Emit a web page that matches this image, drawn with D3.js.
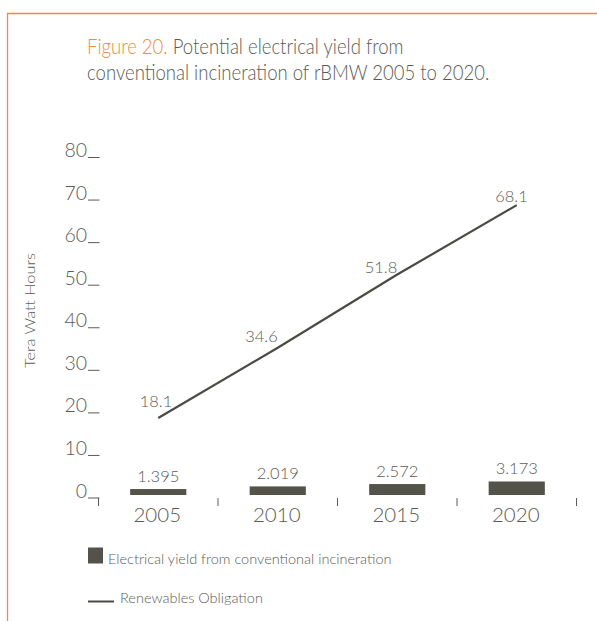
<!DOCTYPE html>
<html>
<head>
<meta charset="utf-8">
<script src="https://cdn.jsdelivr.net/npm/d3@7"></script>
<style>
  html, body { margin: 0; padding: 0; background: #fff; }
  svg { display: block; }
  text { font-family: Lato, "Open Sans", sans-serif; font-weight: 300; }
</style>
</head>
<body>
<svg id="chart" width="597" height="621"></svg>
<script>
// Years on the category axis
const years = ["2005", "2010", "2015", "2020"];
// Electrical yield from conventional incineration (TWh)
const incinerationYield = [1.395, 2.019, 2.572, 3.173];
// Renewables Obligation (TWh)
const renewablesObligation = [18.1, 34.6, 51.8, 68.1];
// Value-axis ticks
const yTicks = [0, 10, 20, 30, 40, 50, 60, 70, 80];

// Label nudges for the line values (dx, dy from each point)
const lineLabelNudge = [[14, -11], [0, -6], [0, -2], [11, -3]];

const textColor = "#5b5b56";
const barColor = "#53534a";
const lineColor = "#4b4b45";
const orange = "#f3893d";

const svg = d3.select("#chart");

// Frame
svg.append("path")
  .attr("d", "M7.5,621 V13.5 H597")
  .attr("fill", "none")
  .attr("stroke", orange)
  .attr("stroke-width", 1.3);

// Title (slightly condensed)
const titleG = svg.append("g").attr("transform", "translate(87,0) scale(0.862,1)");
const title = titleG.append("text")
  .attr("x", 0).attr("y", 54)
  .attr("font-size", 21.5)
  .attr("fill", textColor);
title.append("tspan").attr("fill", orange).text("Figure 20.");
title.append("tspan").text(" Potential electrical yield from");
titleG.append("text")
  .attr("x", 0).attr("y", 80)
  .attr("font-size", 21.5)
  .attr("fill", textColor)
  .text("conventional incineration of rBMW 2005 to 2020.");

// Scales
const x = d3.scaleBand().domain(years).range([98.5, 576.5]).paddingInner(0.53).paddingOuter(0.265);
const y = d3.scaleLinear().domain([0, 80]).range([495, 154.5]);

// Value axis: numbers with underscore-style ticks
const yAxis = svg.append("g");
yAxis.selectAll("text").data(yTicks).join("text")
  .attr("x", 87).attr("y", d => y(d) + 2.5)
  .attr("text-anchor", "end")
  .attr("font-size", 19.5)
  .attr("fill", textColor)
  .text(d => d);
yAxis.selectAll("line").data(yTicks).join("line")
  .attr("x1", 88).attr("x2", 99.5)
  .attr("y1", d => y(d) + 3).attr("y2", d => y(d) + 3)
  .attr("stroke", textColor).attr("stroke-width", 1);

// Category boundaries as short vertical ticks
const step = x.step();
const bounds = d3.range(years.length + 1).map(i => x.range()[0] + i * step);
svg.append("g").selectAll("line").data(bounds).join("line")
  .attr("x1", d => d).attr("x2", d => d)
  .attr("y1", y(0) + 3).attr("y2", y(0) + 11)
  .attr("stroke", textColor).attr("stroke-width", 1);

// Category labels
svg.append("g").selectAll("text").data(years).join("text")
  .attr("x", d => x(d) + x.bandwidth() / 2 - 1)
  .attr("y", 521.5)
  .attr("text-anchor", "middle")
  .attr("font-size", 20.5)
  .attr("fill", textColor)
  .text(d => d);

// Axis title
svg.append("text")
  .attr("transform", "translate(35,310.5) rotate(-90)")
  .attr("text-anchor", "middle")
  .attr("font-size", 14.5)
  .attr("textLength", 115)
  .attr("lengthAdjust", "spacingAndGlyphs")
  .attr("fill", textColor)
  .text("Tera Watt Hours");

// Bars
svg.append("g").selectAll("rect").data(incinerationYield).join("rect")
  .attr("x", (d, i) => x(years[i]))
  .attr("y", d => y(d))
  .attr("width", x.bandwidth())
  .attr("height", d => y(0) - y(d))
  .attr("fill", barColor);

svg.append("g").selectAll("text").data(incinerationYield).join("text")
  .attr("x", (d, i) => x(years[i]) + x.bandwidth() / 2)
  .attr("y", d => y(d) - 7.5)
  .attr("text-anchor", "middle")
  .attr("font-size", 16.5)
  .attr("fill", textColor)
  .text(d => d3.format(".3f")(d));

// Line
const cx = i => x(years[i]) + x.bandwidth() / 2;
const line = d3.line().x((d, i) => cx(i)).y(d => y(d));
svg.append("path")
  .datum(renewablesObligation)
  .attr("d", line)
  .attr("fill", "none")
  .attr("stroke", lineColor)
  .attr("stroke-width", 2.2);

svg.append("g").selectAll("text").data(renewablesObligation).join("text")
  .attr("x", (d, i) => cx(i) + lineLabelNudge[i][0])
  .attr("y", (d, i) => y(d) + lineLabelNudge[i][1])
  .attr("text-anchor", "end")
  .attr("font-size", 16.5)
  .attr("fill", textColor)
  .text(d => d);

// Legend
const legend = svg.append("g");
legend.append("rect")
  .attr("x", 88).attr("y", 547.5).attr("width", 15).attr("height", 16)
  .attr("fill", barColor);
legend.append("text")
  .attr("x", 108).attr("y", 564)
  .attr("font-size", 14.5)
  .attr("fill", textColor)
  .text("Electrical yield from conventional incineration");
legend.append("line")
  .attr("x1", 88).attr("x2", 114).attr("y1", 601.5).attr("y2", 601.5)
  .attr("stroke", lineColor).attr("stroke-width", 2);
legend.append("text")
  .attr("x", 120).attr("y", 603)
  .attr("font-size", 14.5)
  .attr("fill", textColor)
  .text("Renewables Obligation");
</script>
</body>
</html>
